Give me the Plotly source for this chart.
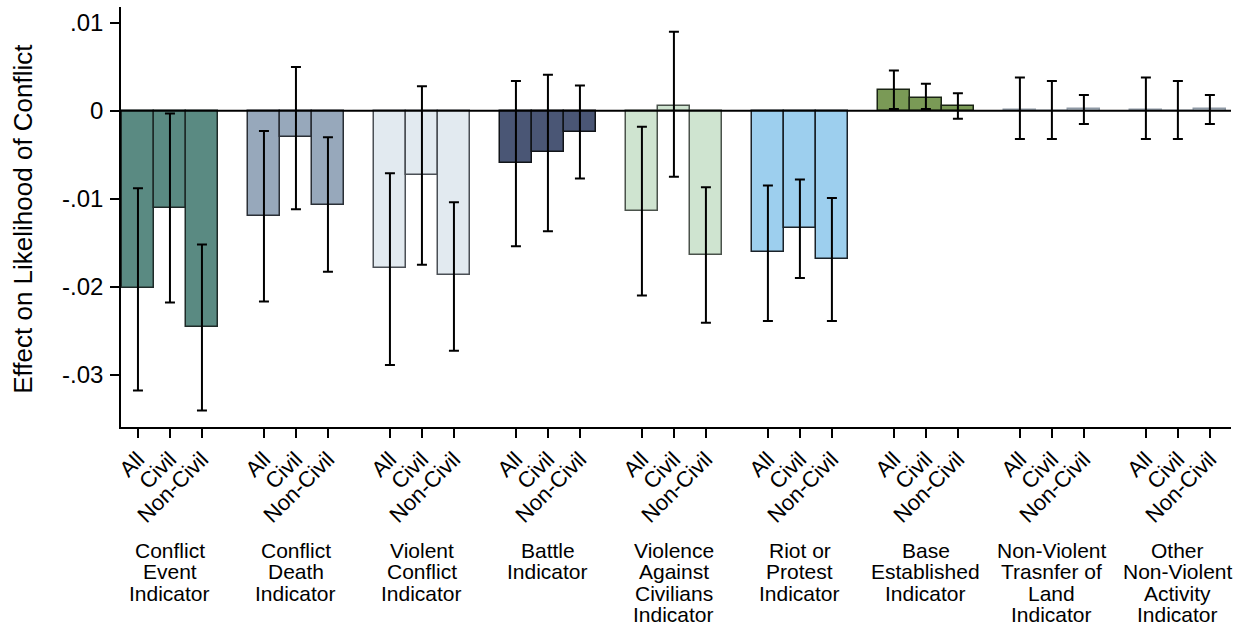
import plotly.graph_objects as go

groups = [["Conflict", "Event", "Indicator"], ["Conflict", "Death", "Indicator"],
          ["Violent", "Conflict", "Indicator"], ["Battle", "Indicator"],
          ["Violence", "Against", "Civilians", "Indicator"], ["Riot or", "Protest", "Indicator"],
          ["Base", "Established", "Indicator"], ["Non-Violent", "Trasnfer of", "Land", "Indicator"],
          ["Other", "Non-Violent", "Activity", "Indicator"]]
samples = ["All", "Civil", "Non-Civil"]

# point estimates [All, Civil, Non-Civil] per group
est = [
    [-0.0202, -0.0110, -0.0246],
    [-0.0120, -0.0030, -0.0107],
    [-0.0179, -0.0073, -0.0187],
    [-0.0059, -0.0047, -0.0024],
    [-0.0114, 0.0006, -0.0164],
    [-0.0161, -0.0133, -0.0168],
    [0.0024, 0.0015, 0.0005],
    [0.0001, 0.0000, 0.0002],
    [0.0001, 0.0000, 0.0002],
]
ci_hi = [
    [-0.0088, -0.0003, -0.0152],
    [-0.0023, 0.0050, -0.0030],
    [-0.0071, 0.0028, -0.0104],
    [0.0034, 0.0041, 0.0029],
    [-0.0018, 0.0090, -0.0087],
    [-0.0085, -0.0078, -0.0099],
    [0.0046, 0.0031, 0.0020],
    [0.0038, 0.0034, 0.0018],
    [0.0038, 0.0034, 0.0018],
]
ci_lo = [
    [-0.0318, -0.0218, -0.0341],
    [-0.0217, -0.0112, -0.0183],
    [-0.0289, -0.0175, -0.0273],
    [-0.0154, -0.0137, -0.0077],
    [-0.0210, -0.0075, -0.0241],
    [-0.0239, -0.0190, -0.0239],
    [0.0002, 0.0002, -0.0009],
    [-0.0032, -0.0032, -0.0015],
    [-0.0032, -0.0032, -0.0015],
]
fills = ["#5a8a82", "#97a8bb", "#e2eaf0", "#4a5675", "#cfe4d0", "#9dcfee",
         "#7a9a56", "#c3ccd6", "#c3ccd6"]
edges = ["#1e2a28", "#2a2f36", "#4a4f55", "#111418", "#4a524b", "#1a2229",
         "#1a2414", "#8f9aa6", "#8f9aa6"]

FONT = "Liberation Sans, Arial, Helvetica"
step = 3.9375
fig = go.Figure()
tickvals, ticktext = [], []
for g in range(len(groups)):
    xs = [g * step + b for b in range(3)]
    tickvals += xs
    ticktext += samples
    fig.add_trace(go.Bar(
        x=xs, y=est[g], width=1.0,
        marker=dict(color=fills[g], line=dict(color=edges[g], width=1.5)),
        error_y=dict(type="data", symmetric=False,
                     array=[h - v for h, v in zip(ci_hi[g], est[g])],
                     arrayminus=[v - l for v, l in zip(est[g], ci_lo[g])],
                     color="black", thickness=2, width=5),
        showlegend=False, hoverinfo="skip"))
    for i, line in enumerate(groups[g]):
        fig.add_annotation(x=g * step + 1, y=-0.2937 - 0.0511 * i, xref="x", yref="paper",
                           text=line, showarrow=False, yanchor="middle",
                           font=dict(size=21, color="black", family=FONT))

fig.add_annotation(x=-0.0883, y=0.4958, xref="paper", yref="paper",
                   text="Effect on Likelihood of Conflict", textangle=-90,
                   showarrow=False, xanchor="center", yanchor="middle",
                   font=dict(size=26, color="black", family=FONT))

fig.add_shape(type="line", xref="paper", yref="y", x0=0, x1=1, y0=0, y1=0,
              line=dict(color="black", width=2), layer="above")

fig.update_layout(
    width=1247, height=625,
    margin=dict(l=121, r=16, t=7, b=197.5),
    plot_bgcolor="white", paper_bgcolor="white",
    bargap=0,
    font=dict(family=FONT, color="black"),
    xaxis=dict(range=[-0.53, 34.16], tickvals=tickvals, ticktext=ticktext,
               tickangle=-45, tickfont=dict(size=22), ticks="outside", ticklen=9,
               tickwidth=1.5, tickcolor="black", showline=True, linecolor="black",
               linewidth=1.5, showgrid=False, zeroline=False, automargin=False),
    yaxis=dict(range=[-0.035966, 0.011818], tickvals=[0.01, 0, -0.01, -0.02, -0.03],
               ticktext=[".01", "0", "-.01", "-.02", "-.03"], tickfont=dict(size=24),
               ticks="outside", ticklen=9, tickwidth=1.5, tickcolor="black",
               ticklabelstandoff=2,
               showline=True, linecolor="black", linewidth=1.5, showgrid=False,
               zeroline=False, automargin=False),
)
fig.write_html("out.html", config={"displayModeBar": False},
               post_script="document.body.style.margin='0px';")
